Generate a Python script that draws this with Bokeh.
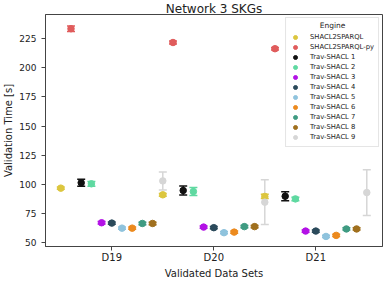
from bokeh.plotting import figure
from bokeh.models import ColumnDataSource, Range1d, FixedTicker, Legend, LegendItem, Label
from bokeh.embed import file_html
from bokeh.resources import INLINE

datasets = ["D19", "D20", "D21"]
engines = ["SHACL2SPARQL", "SHACL2SPARQL-py", "Trav-SHACL 1", "Trav-SHACL 2", "Trav-SHACL 3",
           "Trav-SHACL 4", "Trav-SHACL 5", "Trav-SHACL 6", "Trav-SHACL 7", "Trav-SHACL 8",
           "Trav-SHACL 9"]
colors = ["#dcc63e", "#e05c5c", "#111111", "#5fd9a1", "#b312e6", "#2b4a5b",
          "#8fc3dd", "#ec8a1e", "#3f9b82", "#a0701e", "#d6d6d6"]

shacl2sparql = [96.9, 91.2, 89.8]
shacl2sparql_py = [233.2, 221.4, 216.1]
trav1 = [101.5, 94.9, 90.0]
trav2 = [100.6, 94.0, 87.7]
trav3 = [67.3, 63.6, 60.2]
trav4 = [67.0, 63.1, 60.2]
trav5 = [62.7, 58.8, 55.6]
trav6 = [62.7, 59.3, 56.5]
trav7 = [66.7, 64.0, 62.0]
trav8 = [66.7, 64.0, 62.0]
trav9 = [103.1, 84.9, 93.1]

err_shacl2sparql = [1.0, 1.2, 1.8]
err_shacl2sparql_py = [2.4, 1.2, 1.0]
err_trav1 = [3.0, 3.8, 3.8]
err_trav2 = [2.0, 3.5, 1.5]
err_trav3 = [1.0, 1.0, 1.0]
err_trav4 = [1.0, 1.0, 1.0]
err_trav5 = [1.0, 1.0, 1.0]
err_trav6 = [1.0, 1.0, 1.0]
err_trav7 = [1.0, 1.0, 1.0]
err_trav8 = [1.0, 1.0, 1.0]
err_trav9 = [7.7, 19.1, 19.5]

means = [shacl2sparql, shacl2sparql_py, trav1, trav2, trav3, trav4, trav5, trav6, trav7, trav8, trav9]
errs = [err_shacl2sparql, err_shacl2sparql_py, err_trav1, err_trav2, err_trav3, err_trav4,
        err_trav5, err_trav6, err_trav7, err_trav8, err_trav9]

y_ticks = [50, 75, 100, 125, 150, 175, 200, 225]

FONT = "DejaVu Sans"
TXT = "#222222"
X0, X1 = -0.65, 2.654
Y0, Y1 = 47.0, 245.35

p = figure(width=389, height=282, output_backend="svg", toolbar_location=None,
           x_range=Range1d(X0, X1), y_range=Range1d(Y0, Y1),
           min_border_left=45, min_border_right=7, min_border_bottom=36, min_border_top=14,
           title="Network 3 SKGs")
p.grid.visible = False
p.outline_line_color = "#444444"
p.outline_line_width = 1
p.background_fill_color = "white"
p.title.align = "center"
p.title.vertical_align = "middle"
p.title.text_font = FONT
p.title.text_font_size = "12px"
p.title.text_font_style = "normal"
p.title.text_color = TXT
p.title.standoff = -5
p.title.offset = 0

n = len(engines)
step = 0.1
points = []
for i, (eng, col, m, e) in enumerate(zip(engines, colors, means, errs)):
    off = (i - (n - 1) / 2) * step
    xs = [k + off for k in range(len(datasets))]
    lo = [a - b for a, b in zip(m, e)]
    hi = [a + b for a, b in zip(m, e)]
    src = ColumnDataSource(dict(x=xs, y=m, lo=lo, hi=hi))
    p.segment(x0="x", y0="lo", x1="x", y1="hi", source=src, line_color=col, line_width=1.5)
    p.scatter(x="x", y="lo", source=src, marker="dash", size=8, line_color=col, line_width=1.5)
    p.scatter(x="x", y="hi", source=src, marker="dash", size=8, line_color=col, line_width=1.5)
    points.append((eng, col, src))

items = []
for eng, col, src in points:
    r = p.scatter(x="x", y="y", source=src, marker="circle", size=6.5,
                  fill_color=col, line_color=col)
    items.append(LegendItem(label=eng, renderers=[r]))

legend = Legend(items=items, location="top_right", title=" ")
legend.title_text_font = FONT
legend.title_text_font_size = "7.5px"
legend.title_standoff = 1
legend.label_text_font = FONT
legend.label_text_font_size = "6.8px"
legend.label_text_color = TXT
legend.label_height = 10
legend.glyph_height = 10
legend.glyph_width = 10
legend.spacing = 0
legend.padding = 4
legend.margin = 3
legend.label_standoff = 10
legend.border_line_color = "#cccccc"
legend.background_fill_color = "white"
legend.background_fill_alpha = 0.0
p.add_layout(legend)

legend_title = Label(x=X1, y=Y1, x_offset=-50, y_offset=-10.7, text="Engine",
                     text_align="center", text_baseline="middle", level="overlay",
                     text_font=FONT, text_font_size="7.5px", text_color=TXT)
p.add_layout(legend_title)

p.xaxis.ticker = FixedTicker(ticks=[0, 1, 2])
p.xaxis.major_label_overrides = {0: "D19", 1: "D20", 2: "D21"}
p.yaxis.ticker = FixedTicker(ticks=y_ticks)
p.xaxis.axis_label = "Validated Data Sets"
p.yaxis.axis_label = "Validation Time [s]"
for ax in (p.xaxis, p.yaxis):
    ax.axis_label_text_font = FONT
    ax.axis_label_text_font_size = "10px"
    ax.axis_label_text_font_style = "normal"
    ax.axis_label_text_color = TXT
    ax.major_label_text_font = FONT
    ax.major_label_text_color = TXT
    ax.major_tick_in = 0
    ax.major_tick_out = 4
    ax.minor_tick_line_color = None
    ax.axis_line_color = "#444444"
    ax.major_tick_line_color = "#444444"
p.xaxis.major_label_text_font_size = "10px"
p.yaxis.major_label_text_font_size = "9px"
p.xaxis.major_label_standoff = 1
p.xaxis.axis_label_standoff = 2
p.yaxis.major_label_standoff = 5
p.yaxis.axis_label_standoff = 2

open("out.html", "w").write(file_html(p, INLINE))
